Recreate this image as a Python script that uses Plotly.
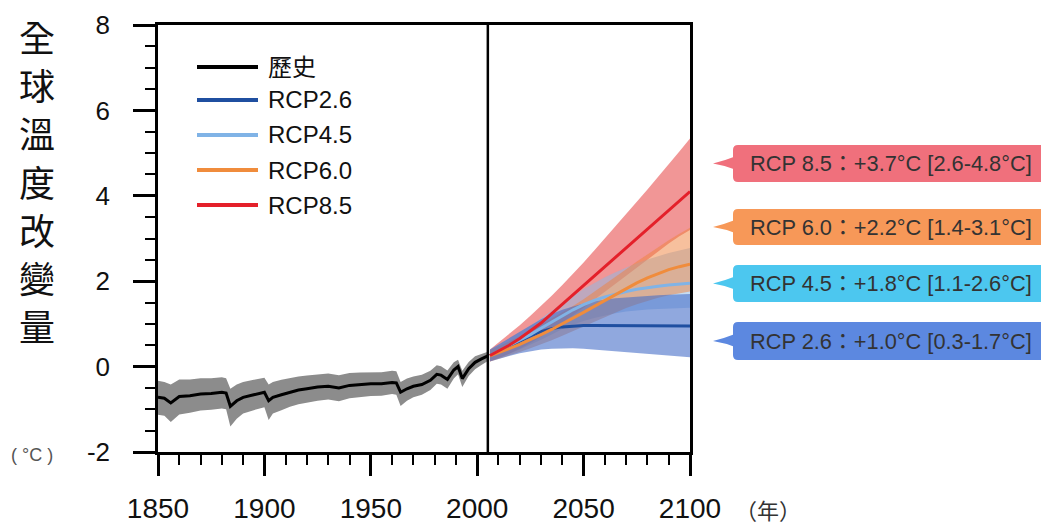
import plotly.graph_objects as go

# ---------------- data ----------------
hist_years = [1850, 1853, 1856, 1860, 1865, 1870, 1875, 1880, 1882, 1884, 1887, 1890, 1895, 1900, 1902,
              1904, 1908, 1912, 1916, 1920, 1925, 1930, 1935, 1940, 1945, 1950, 1955, 1960, 1962, 1964,
              1967, 1970, 1974, 1978, 1981, 1983, 1986, 1989, 1991, 1993, 1996, 1999, 2002, 2005]
hist_mean = [-0.72, -0.74, -0.85, -0.70, -0.68, -0.64, -0.63, -0.60, -0.62, -0.93, -0.80, -0.72, -0.66, -0.60, -0.80,
             -0.72, -0.66, -0.60, -0.55, -0.52, -0.48, -0.46, -0.50, -0.44, -0.42, -0.40, -0.40, -0.37, -0.38, -0.60,
             -0.52, -0.46, -0.42, -0.32, -0.18, -0.20, -0.30, -0.08, 0.00, -0.28, -0.05, 0.10, 0.18, 0.25]
hist_upper = [-0.33, -0.36, -0.42, -0.30, -0.30, -0.27, -0.27, -0.25, -0.27, -0.52, -0.42, -0.36, -0.31, -0.26, -0.42,
              -0.36, -0.31, -0.27, -0.23, -0.21, -0.18, -0.16, -0.20, -0.15, -0.14, -0.13, -0.13, -0.10, -0.11, -0.36,
              -0.28, -0.23, -0.19, -0.10, 0.03, 0.01, -0.09, 0.10, 0.16, -0.10, 0.11, 0.24, 0.30, 0.35]
hist_lower = [-1.13, -1.15, -1.30, -1.12, -1.08, -1.03, -1.01, -0.98, -1.00, -1.40, -1.22, -1.10, -1.02, -0.95, -1.25,
              -1.10, -1.02, -0.94, -0.88, -0.84, -0.80, -0.77, -0.81, -0.74, -0.71, -0.69, -0.68, -0.64, -0.66, -0.92,
              -0.80, -0.72, -0.66, -0.55, -0.40, -0.42, -0.52, -0.28, -0.18, -0.48, -0.22, -0.06, 0.04, 0.13]

proj_years = [2006, 2010, 2015, 2020, 2025, 2030, 2035, 2040, 2045, 2050,
              2055, 2060, 2065, 2070, 2075, 2080, 2085, 2090, 2095, 2100]

rcp85_mean = [0.26, 0.36, 0.50, 0.66, 0.84, 1.02, 1.24, 1.46, 1.68, 1.90,
              2.12, 2.34, 2.56, 2.78, 3.00, 3.22, 3.44, 3.66, 3.88, 4.10]
rcp85_upper = [0.40, 0.56, 0.76, 0.97, 1.19, 1.42, 1.66, 1.91, 2.17, 2.44,
               2.72, 3.00, 3.28, 3.57, 3.86, 4.15, 4.44, 4.74, 5.04, 5.34]
rcp85_lower = [0.12, 0.20, 0.30, 0.42, 0.55, 0.70, 0.86, 1.02, 1.20, 1.38,
               1.56, 1.75, 1.94, 2.13, 2.32, 2.51, 2.70, 2.88, 3.05, 3.20]

rcp60_mean = [0.25, 0.32, 0.42, 0.52, 0.63, 0.75, 0.87, 1.00, 1.13, 1.27,
              1.41, 1.55, 1.69, 1.83, 1.96, 2.08, 2.18, 2.27, 2.34, 2.40]
rcp60_upper = [0.38, 0.47, 0.59, 0.71, 0.84, 0.98, 1.12, 1.27, 1.42, 1.58,
               1.75, 1.92, 2.10, 2.28, 2.46, 2.63, 2.80, 2.96, 3.11, 3.25]
rcp60_lower = [0.12, 0.18, 0.26, 0.34, 0.43, 0.52, 0.62, 0.72, 0.83, 0.94,
               1.05, 1.16, 1.27, 1.37, 1.46, 1.54, 1.61, 1.67, 1.72, 1.76]

rcp45_mean = [0.26, 0.36, 0.49, 0.62, 0.75, 0.90, 1.05, 1.20, 1.33, 1.45,
              1.55, 1.63, 1.70, 1.76, 1.81, 1.85, 1.88, 1.91, 1.93, 1.95]
rcp45_upper = [0.38, 0.50, 0.65, 0.80, 0.96, 1.13, 1.31, 1.49, 1.66, 1.82,
               1.96, 2.09, 2.21, 2.32, 2.42, 2.51, 2.59, 2.66, 2.72, 2.78]
rcp45_lower = [0.13, 0.20, 0.30, 0.40, 0.51, 0.63, 0.75, 0.88, 0.98, 1.07,
               1.14, 1.20, 1.25, 1.29, 1.32, 1.34, 1.35, 1.36, 1.37, 1.38]

rcp26_mean = [0.26, 0.36, 0.48, 0.60, 0.72, 0.82, 0.89, 0.93, 0.95, 0.96,
              0.96, 0.96, 0.96, 0.96, 0.96, 0.96, 0.96, 0.95, 0.95, 0.95]
rcp26_upper = [0.40, 0.52, 0.67, 0.82, 0.97, 1.11, 1.23, 1.33, 1.41, 1.48,
               1.53, 1.57, 1.60, 1.62, 1.64, 1.66, 1.67, 1.68, 1.69, 1.70]
rcp26_lower = [0.12, 0.18, 0.25, 0.31, 0.36, 0.40, 0.42, 0.43, 0.43, 0.42,
               0.40, 0.38, 0.36, 0.34, 0.32, 0.30, 0.28, 0.26, 0.24, 0.22]

divider_year = 2005
x_ticks = [1850, 1900, 1950, 2000, 2050, 2100]
y_ticks = [-2, 0, 2, 4, 6, 8]

legend_names = ["歷史", "RCP2.6", "RCP4.5", "RCP6.0", "RCP8.5"]
callout_texts = ["RCP 8.5：+3.7°C [2.6-4.8°C]", "RCP 6.0：+2.2°C [1.4-3.1°C]",
                 "RCP 4.5：+1.8°C [1.1-2.6°C]", "RCP 2.6：+1.0°C [0.3-1.7°C]"]
y_title_chars = ["全", "球", "溫", "度", "改", "變", "量"]

# ---------------- styles ----------------
line_colors = {"hist": "#000000", "26": "#1f4fa0", "45": "#80b3e6", "60": "#f08c3c", "85": "#e4202a"}
band_colors = {"85": "rgba(232,80,80,0.6)", "60": "rgba(240,130,60,0.5)",
               "45": "rgba(140,185,230,0.5)", "26": "rgba(70,110,200,0.6)"}
callout_colors = ["#f0707c", "#f79858", "#4cc7ef", "#5c88e0"]

# page body has an 8px margin, so the figure is drawn 8px smaller and offset
OFF = 8
W, H = 1049 - OFF, 524 - OFF
L, R, T, B = 158, 690, 25, 452   # plot area in window pixels


def px(x):
    return (x - L) / (R - L)


def py(y):
    return (B - y) / (B - T)


fig = go.Figure()

# history band + line
fig.add_trace(go.Scatter(x=hist_years, y=hist_upper, mode="lines", line=dict(width=0),
                         showlegend=False, hoverinfo="skip"))
fig.add_trace(go.Scatter(x=hist_years, y=hist_lower, mode="lines", line=dict(width=0),
                         fill="tonexty", fillcolor="rgb(140,140,140)", showlegend=False, hoverinfo="skip"))

bands = [("85", rcp85_upper, rcp85_lower), ("45", rcp45_upper, rcp45_lower),
         ("60", rcp60_upper, rcp60_lower), ("26", rcp26_upper, rcp26_lower)]
for key, up, lo in bands:
    fig.add_trace(go.Scatter(x=proj_years, y=up, mode="lines", line=dict(width=0),
                             showlegend=False, hoverinfo="skip"))
    fig.add_trace(go.Scatter(x=proj_years, y=lo, mode="lines", line=dict(width=0),
                             fill="tonexty", fillcolor=band_colors[key], showlegend=False, hoverinfo="skip"))

fig.add_trace(go.Scatter(x=hist_years, y=hist_mean, mode="lines", name="歷史",
                         line=dict(color=line_colors["hist"], width=3), showlegend=False))
for key, mean, nm in [("26", rcp26_mean, "RCP2.6"), ("45", rcp45_mean, "RCP4.5"),
                      ("60", rcp60_mean, "RCP6.0"), ("85", rcp85_mean, "RCP8.5")]:
    fig.add_trace(go.Scatter(x=proj_years, y=mean, mode="lines", name=nm,
                             line=dict(color=line_colors[key], width=3), showlegend=False))

shapes = []
annotations = []

# divider line
shapes.append(dict(type="line", xref="x", yref="paper", x0=divider_year, x1=divider_year, y0=0, y1=1,
                   line=dict(color="black", width=2.5)))

# manual legend
leg_keys = ["hist", "26", "45", "60", "85"]
leg_y = [67, 100, 135, 170, 205]
for k, nm, yy in zip(leg_keys, legend_names, leg_y):
    shapes.append(dict(type="line", xref="paper", yref="paper", x0=px(197), x1=px(258), y0=py(yy), y1=py(yy),
                       line=dict(color=line_colors[k], width=4)))
    annotations.append(dict(xref="paper", yref="paper", x=px(266), y=py(yy), text=nm, showarrow=False,
                            xanchor="left", yanchor="middle",
                            font=dict(size=24, color="#111", family="Liberation Sans, Noto Sans CJK TC")))


# callouts
def rounded_rect(x0, y0, x1, y1, r):
    pts = [f"M {px(x0 + r)},{py(y0)}",
           f"L {px(x1 - r)},{py(y0)}",
           f"Q {px(x1)},{py(y0)} {px(x1)},{py(y0 + r)}",
           f"L {px(x1)},{py(y1 - r)}",
           f"Q {px(x1)},{py(y1)} {px(x1 - r)},{py(y1)}",
           f"L {px(x0 + r)},{py(y1)}",
           f"Q {px(x0)},{py(y1)} {px(x0)},{py(y1 - r)}",
           f"L {px(x0)},{py(y0 + r)}",
           f"Q {px(x0)},{py(y0)} {px(x0 + r)},{py(y0)} Z"]
    return " ".join(pts)


box_y = [(145, 182), (209, 245), (265, 302), (322, 360)]
bx0, bx1, tip = 733, 1047, 713
for (y0, y1), col, txt in zip(box_y, callout_colors, callout_texts):
    cy = (y0 + y1) / 2
    shapes.append(dict(type="path", xref="paper", yref="paper", path=rounded_rect(bx0, y0, bx1, y1, 5),
                       fillcolor=col, line=dict(width=0), layer="above"))
    tri = (f"M {px(tip)},{py(cy)} Q {px(tip + 12)},{py(cy - 3)} {px(bx0 + 2)},{py(cy - 7)} "
           f"L {px(bx0 + 2)},{py(cy + 6)} Q {px(tip + 12)},{py(cy + 2)} {px(tip)},{py(cy)} Z")
    shapes.append(dict(type="path", xref="paper", yref="paper", path=tri,
                       fillcolor=col, line=dict(width=0), layer="above"))
    annotations.append(dict(xref="paper", yref="paper", x=px((bx0 + bx1) / 2 + 1), y=py(cy), text=txt,
                            showarrow=False, xanchor="center", yanchor="middle",
                            font=dict(size=21.8, color="#333333", family="Liberation Sans, Noto Sans CJK TC")))

# y title (vertical characters)
for i, ch in enumerate(y_title_chars):
    annotations.append(dict(xref="paper", yref="paper", x=px(37), y=py(36 + 48.2 * i), text=ch,
                            showarrow=False, xanchor="center", yanchor="middle",
                            font=dict(size=36, color="#111", family="Noto Sans CJK TC")))
annotations.append(dict(xref="paper", yref="paper", x=px(32), y=py(455), text="( °C )", showarrow=False,
                        xanchor="center", yanchor="middle",
                        font=dict(size=18, color="#555", family="Liberation Sans, Noto Sans CJK TC")))
annotations.append(dict(xref="paper", yref="paper", x=px(768), y=py(509), text="（年）", showarrow=False,
                        xanchor="center", yanchor="middle",
                        font=dict(size=22, color="#333", family="Noto Sans CJK TC")))

fig.update_layout(
    template="none",
    width=W, height=H,
    margin=dict(l=L - OFF, r=1049 - R, t=T - OFF, b=524 - B, pad=0),
    paper_bgcolor="white", plot_bgcolor="white",
    showlegend=False,
    shapes=shapes, annotations=annotations,
    xaxis=dict(range=[1850, 2100], tickvals=x_ticks, ticktext=[str(v) for v in x_ticks], automargin=False,
               showgrid=False, zeroline=False, showline=True, linecolor="black", linewidth=2.5, mirror=True,
               ticks="outside", ticklen=21, tickwidth=3, tickcolor="black",
               minor=dict(dtick=10, tick0=1850, ticks="outside", ticklen=10, tickwidth=2, tickcolor="black",
                          showgrid=False),
               tickfont=dict(size=28, color="#111", family="Liberation Sans"), ticklabelstandoff=9),
    yaxis=dict(range=[-2, 8], tickvals=y_ticks, ticktext=[str(v) for v in y_ticks], automargin=False,
               showgrid=False, zeroline=False, showline=True, linecolor="black", linewidth=2.5, mirror=True,
               ticks="outside", ticklen=22, tickwidth=3, tickcolor="black",
               minor=dict(dtick=0.5, tick0=0, ticks="outside", ticklen=10, tickwidth=2, tickcolor="black",
                          showgrid=False),
               tickfont=dict(size=26, color="#111", family="Liberation Sans"), ticklabelstandoff=18),
)

fig.write_html("out.html")
